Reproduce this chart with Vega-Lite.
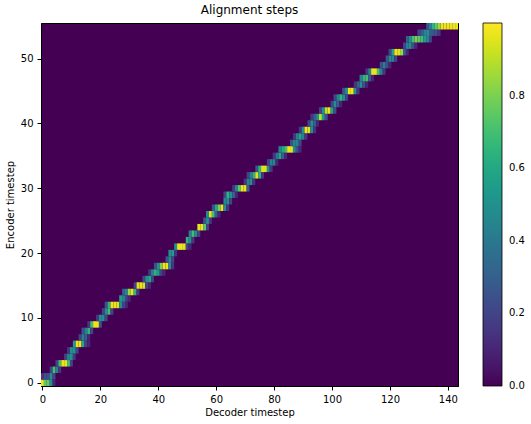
{
  "$schema": "https://vega.github.io/schema/vega-lite/v6.json",
  "width": 417,
  "height": 363,
  "autosize": {"type": "none"},
  "padding": {"left": 41, "top": 23, "right": 73, "bottom": 38},
  "background": "white",
  "title": {"text": "Alignment steps", "fontSize": 12, "fontWeight": "normal", "font": "DejaVu Sans", "color": "black", "anchor": "middle", "offset": 6},
  "config": {
    "view": {"fill": "#440154", "stroke": "black", "strokeWidth": 1},
    "axis": {"labelFont": "DejaVu Sans", "titleFont": "DejaVu Sans", "labelFontSize": 10, "titleFontSize": 10, "titleFontWeight": "normal", "labelColor": "black", "titleColor": "black", "tickColor": "black", "domainColor": "black", "tickSize": 4, "labelPadding": 4, "grid": false},
    "legend": {"labelFont": "DejaVu Sans", "labelFontSize": 10, "labelColor": "black"}
  },
  "data": {"values": [
    {"e":0,"d":0,"v":0.97},{"e":0,"d":1,"v":0.75},{"e":0,"d":2,"v":0.75},{"e":0,"d":3,"v":0.5},{"e":0,"d":4,"v":0.1},
    {"e":1,"d":0,"v":0.15},{"e":1,"d":1,"v":0.25},{"e":1,"d":2,"v":0.25},{"e":1,"d":3,"v":0.5},{"e":1,"d":4,"v":0.2},
    {"e":2,"d":3,"v":0.2},{"e":2,"d":4,"v":0.7},{"e":2,"d":5,"v":0.45},{"e":2,"d":6,"v":0.15},
    {"e":3,"d":5,"v":0.2},{"e":3,"d":6,"v":0.7},{"e":3,"d":7,"v":0.97},{"e":3,"d":8,"v":0.97},{"e":3,"d":9,"v":0.7},{"e":3,"d":10,"v":0.2},
    {"e":4,"d":8,"v":0.2},{"e":4,"d":9,"v":0.45},{"e":4,"d":10,"v":0.5},{"e":4,"d":11,"v":0.15},
    {"e":5,"d":9,"v":0.15},{"e":5,"d":10,"v":0.5},{"e":5,"d":11,"v":0.5},{"e":5,"d":12,"v":0.2},
    {"e":6,"d":11,"v":0.55},{"e":6,"d":12,"v":0.97},{"e":6,"d":13,"v":0.97},{"e":6,"d":14,"v":0.6},{"e":6,"d":15,"v":0.2},{"e":6,"d":16,"v":0.1},
    {"e":7,"d":13,"v":0.2},{"e":7,"d":14,"v":0.45},{"e":7,"d":15,"v":0.3},{"e":7,"d":16,"v":0.1},
    {"e":8,"d":14,"v":0.25},{"e":8,"d":15,"v":0.45},{"e":8,"d":16,"v":0.65},{"e":8,"d":17,"v":0.2},
    {"e":9,"d":16,"v":0.15},{"e":9,"d":17,"v":0.7},{"e":9,"d":18,"v":0.97},{"e":9,"d":19,"v":0.97},{"e":9,"d":20,"v":0.25},
    {"e":10,"d":19,"v":0.15},{"e":10,"d":20,"v":0.5},{"e":10,"d":21,"v":0.5},{"e":10,"d":22,"v":0.2},
    {"e":11,"d":21,"v":0.2},{"e":11,"d":22,"v":0.5},{"e":11,"d":23,"v":0.7},{"e":11,"d":24,"v":0.2},
    {"e":12,"d":22,"v":0.25},{"e":12,"d":23,"v":0.65},{"e":12,"d":24,"v":0.97},{"e":12,"d":25,"v":0.97},{"e":12,"d":26,"v":0.95},{"e":12,"d":27,"v":0.5},{"e":12,"d":28,"v":0.2},{"e":12,"d":29,"v":0.1},
    {"e":13,"d":27,"v":0.55},{"e":13,"d":28,"v":0.45},{"e":13,"d":29,"v":0.2},{"e":13,"d":30,"v":0.1},
    {"e":14,"d":28,"v":0.3},{"e":14,"d":29,"v":0.45},{"e":14,"d":30,"v":0.85},{"e":14,"d":31,"v":0.97},{"e":14,"d":32,"v":0.65},{"e":14,"d":33,"v":0.15},
    {"e":15,"d":32,"v":0.2},{"e":15,"d":33,"v":0.95},{"e":15,"d":34,"v":0.97},{"e":15,"d":35,"v":0.95},{"e":15,"d":36,"v":0.2},{"e":15,"d":37,"v":0.1},
    {"e":16,"d":35,"v":0.2},{"e":16,"d":36,"v":0.5},{"e":16,"d":37,"v":0.6},{"e":16,"d":38,"v":0.2},
    {"e":17,"d":37,"v":0.15},{"e":17,"d":38,"v":0.45},{"e":17,"d":39,"v":0.65},{"e":17,"d":40,"v":0.55},{"e":17,"d":41,"v":0.2},{"e":17,"d":42,"v":0.1},
    {"e":18,"d":39,"v":0.25},{"e":18,"d":40,"v":0.5},{"e":18,"d":41,"v":0.8},{"e":18,"d":42,"v":0.97},{"e":18,"d":43,"v":0.97},{"e":18,"d":44,"v":0.5},{"e":18,"d":45,"v":0.15},
    {"e":19,"d":43,"v":0.25},{"e":19,"d":44,"v":0.5},{"e":19,"d":45,"v":0.2},
    {"e":20,"d":44,"v":0.5},{"e":20,"d":45,"v":0.55},{"e":20,"d":46,"v":0.15},
    {"e":21,"d":46,"v":0.5},{"e":21,"d":47,"v":0.97},{"e":21,"d":48,"v":0.97},{"e":21,"d":49,"v":0.95},{"e":21,"d":50,"v":0.2},{"e":21,"d":51,"v":0.1},
    {"e":22,"d":50,"v":0.65},{"e":22,"d":51,"v":0.5},{"e":22,"d":52,"v":0.15},
    {"e":23,"d":51,"v":0.45},{"e":23,"d":52,"v":0.7},{"e":23,"d":53,"v":0.5},{"e":23,"d":54,"v":0.2},
    {"e":24,"d":54,"v":0.97},{"e":24,"d":55,"v":0.97},{"e":24,"d":56,"v":0.75},{"e":24,"d":57,"v":0.2},
    {"e":25,"d":56,"v":0.25},{"e":25,"d":57,"v":0.5},{"e":25,"d":58,"v":0.15},
    {"e":26,"d":57,"v":0.5},{"e":26,"d":58,"v":0.95},{"e":26,"d":59,"v":0.7},{"e":26,"d":60,"v":0.3},{"e":26,"d":61,"v":0.1},
    {"e":27,"d":59,"v":0.25},{"e":27,"d":60,"v":0.6},{"e":27,"d":61,"v":0.8},{"e":27,"d":62,"v":0.97},{"e":27,"d":63,"v":0.5},{"e":27,"d":64,"v":0.15},
    {"e":28,"d":63,"v":0.45},{"e":28,"d":64,"v":0.5},{"e":28,"d":65,"v":0.2},
    {"e":29,"d":63,"v":0.2},{"e":29,"d":64,"v":0.65},{"e":29,"d":65,"v":0.5},{"e":29,"d":66,"v":0.3},{"e":29,"d":67,"v":0.1},
    {"e":30,"d":66,"v":0.15},{"e":30,"d":67,"v":0.45},{"e":30,"d":68,"v":0.75},{"e":30,"d":69,"v":0.97},{"e":30,"d":70,"v":0.97},{"e":30,"d":71,"v":0.3},
    {"e":31,"d":70,"v":0.15},{"e":31,"d":71,"v":0.45},{"e":31,"d":72,"v":0.5},{"e":31,"d":73,"v":0.15},
    {"e":32,"d":71,"v":0.2},{"e":32,"d":72,"v":0.45},{"e":32,"d":73,"v":0.65},{"e":32,"d":74,"v":0.95},{"e":32,"d":75,"v":0.65},{"e":32,"d":76,"v":0.15},
    {"e":33,"d":74,"v":0.25},{"e":33,"d":75,"v":0.65},{"e":33,"d":76,"v":0.95},{"e":33,"d":77,"v":0.95},{"e":33,"d":78,"v":0.5},{"e":33,"d":79,"v":0.15},
    {"e":34,"d":78,"v":0.2},{"e":34,"d":79,"v":0.45},{"e":34,"d":80,"v":0.45},{"e":34,"d":81,"v":0.1},
    {"e":35,"d":80,"v":0.15},{"e":35,"d":81,"v":0.4},{"e":35,"d":82,"v":0.6},{"e":35,"d":83,"v":0.3},{"e":35,"d":84,"v":0.1},
    {"e":36,"d":82,"v":0.45},{"e":36,"d":83,"v":0.6},{"e":36,"d":84,"v":0.7},{"e":36,"d":85,"v":0.97},{"e":36,"d":86,"v":0.97},{"e":36,"d":87,"v":0.5},{"e":36,"d":88,"v":0.25},{"e":36,"d":89,"v":0.1},
    {"e":37,"d":86,"v":0.25},{"e":37,"d":87,"v":0.45},{"e":37,"d":88,"v":0.45},{"e":37,"d":89,"v":0.2},
    {"e":38,"d":87,"v":0.15},{"e":38,"d":88,"v":0.45},{"e":38,"d":89,"v":0.6},{"e":38,"d":90,"v":0.45},{"e":38,"d":91,"v":0.15},
    {"e":39,"d":89,"v":0.15},{"e":39,"d":90,"v":0.5},{"e":39,"d":91,"v":0.97},{"e":39,"d":92,"v":0.95},{"e":39,"d":93,"v":0.5},{"e":39,"d":94,"v":0.15},
    {"e":40,"d":92,"v":0.2},{"e":40,"d":93,"v":0.5},{"e":40,"d":94,"v":0.3},{"e":40,"d":95,"v":0.1},
    {"e":41,"d":93,"v":0.15},{"e":41,"d":94,"v":0.3},{"e":41,"d":95,"v":0.5},{"e":41,"d":96,"v":0.9},{"e":41,"d":97,"v":0.55},{"e":41,"d":98,"v":0.25},
    {"e":42,"d":96,"v":0.2},{"e":42,"d":97,"v":0.5},{"e":42,"d":98,"v":0.9},{"e":42,"d":99,"v":0.97},{"e":42,"d":100,"v":0.6},{"e":42,"d":101,"v":0.25},
    {"e":43,"d":100,"v":0.2},{"e":43,"d":101,"v":0.5},{"e":43,"d":102,"v":0.3},{"e":43,"d":103,"v":0.1},
    {"e":44,"d":101,"v":0.2},{"e":44,"d":102,"v":0.45},{"e":44,"d":103,"v":0.65},{"e":44,"d":104,"v":0.5},{"e":44,"d":105,"v":0.2},
    {"e":45,"d":104,"v":0.25},{"e":45,"d":105,"v":0.5},{"e":45,"d":106,"v":0.97},{"e":45,"d":107,"v":0.97},{"e":45,"d":108,"v":0.5},{"e":45,"d":109,"v":0.15},
    {"e":46,"d":108,"v":0.15},{"e":46,"d":109,"v":0.3},{"e":46,"d":110,"v":0.5},{"e":46,"d":111,"v":0.25},{"e":46,"d":112,"v":0.1},
    {"e":47,"d":110,"v":0.45},{"e":47,"d":111,"v":0.65},{"e":47,"d":112,"v":0.7},{"e":47,"d":113,"v":0.3},{"e":47,"d":114,"v":0.1},
    {"e":48,"d":112,"v":0.15},{"e":48,"d":113,"v":0.45},{"e":48,"d":114,"v":0.97},{"e":48,"d":115,"v":0.97},{"e":48,"d":116,"v":0.7},{"e":48,"d":117,"v":0.45},{"e":48,"d":118,"v":0.15},
    {"e":49,"d":117,"v":0.25},{"e":49,"d":118,"v":0.45},{"e":49,"d":119,"v":0.25},{"e":49,"d":120,"v":0.1},
    {"e":50,"d":119,"v":0.25},{"e":50,"d":120,"v":0.5},{"e":50,"d":121,"v":0.45},{"e":50,"d":122,"v":0.2},
    {"e":51,"d":120,"v":0.2},{"e":51,"d":121,"v":0.6},{"e":51,"d":122,"v":0.97},{"e":51,"d":123,"v":0.95},{"e":51,"d":124,"v":0.85},{"e":51,"d":125,"v":0.3},{"e":51,"d":126,"v":0.1},
    {"e":52,"d":125,"v":0.2},{"e":52,"d":126,"v":0.45},{"e":52,"d":127,"v":0.5},{"e":52,"d":128,"v":0.25},{"e":52,"d":129,"v":0.1},
    {"e":53,"d":126,"v":0.3},{"e":53,"d":127,"v":0.5},{"e":53,"d":128,"v":0.7},{"e":53,"d":129,"v":0.8},{"e":53,"d":130,"v":0.75},{"e":53,"d":131,"v":0.7},{"e":53,"d":132,"v":0.55},{"e":53,"d":133,"v":0.45},{"e":53,"d":134,"v":0.2},
    {"e":54,"d":130,"v":0.2},{"e":54,"d":131,"v":0.3},{"e":54,"d":132,"v":0.45},{"e":54,"d":133,"v":0.5},{"e":54,"d":134,"v":0.3},{"e":54,"d":135,"v":0.25},{"e":54,"d":136,"v":0.25},{"e":54,"d":137,"v":0.15},
    {"e":55,"d":133,"v":0.25},{"e":55,"d":134,"v":0.45},{"e":55,"d":135,"v":0.65},{"e":55,"d":136,"v":0.75},{"e":55,"d":137,"v":0.85},{"e":55,"d":138,"v":0.97},{"e":55,"d":139,"v":0.97},{"e":55,"d":140,"v":0.97},{"e":55,"d":141,"v":0.97},{"e":55,"d":142,"v":0.97},{"e":55,"d":143,"v":0.97}
  ]},
  "mark": {"type": "rect", "width": 2.896, "height": 6.482},
  "encoding": {
    "x": {"field": "d", "type": "quantitative", "scale": {"domain": [-0.5, 143.5], "nice": false, "zero": false}, "axis": {"title": "Decoder timestep", "values": [0, 20, 40, 60, 80, 100, 120, 140], "titlePadding": 3}},
    "y": {"field": "e", "type": "quantitative", "scale": {"domain": [-0.5, 55.5], "nice": false, "zero": false}, "axis": {"title": "Encoder timestep", "values": [0, 10, 20, 30, 40, 50], "titlePadding": 5}},
    "color": {"field": "v", "type": "quantitative", "scale": {"scheme": "viridis", "domain": [0, 1]}, "legend": {"title": null, "values": [0.0001, 0.2, 0.4, 0.6, 0.8], "format": ".1f", "gradientLength": 363, "gradientThickness": 19, "gradientStrokeColor": "black", "gradientStrokeWidth": 0.8, "labelOffset": 7, "offset": 25, "padding": 0, "labelOverlap": false}}
  }
}
